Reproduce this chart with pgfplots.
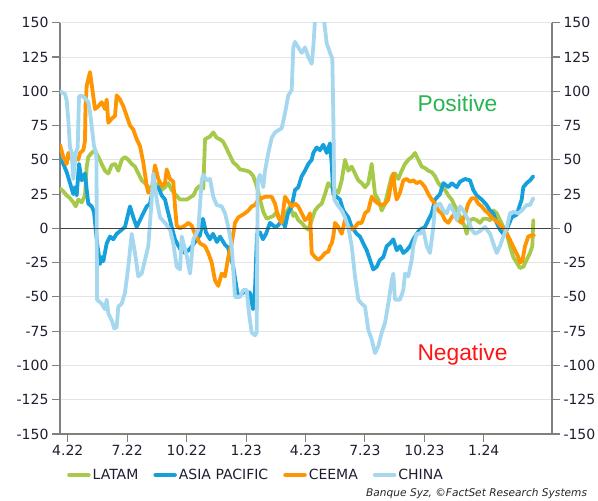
\documentclass[border=0pt]{standalone}
\usepackage{pgfplots}
\pgfplotsset{compat=1.18}
\usepackage{fontspec}
\setmainfont{DejaVu Sans}
\newfontfamily\annfont{Liberation Sans}
\definecolor{latam}{RGB}{166,201,74}
\definecolor{asia}{RGB}{22,160,219}
\definecolor{ceema}{RGB}{255,149,0}
\definecolor{china}{RGB}{165,216,238}
\definecolor{axisgray}{RGB}{128,128,128}
\definecolor{gridgray}{RGB}{226,228,230}
\definecolor{labelcol}{RGB}{30,30,50}
\definecolor{posgreen}{RGB}{40,180,80}
\definecolor{negred}{RGB}{255,20,20}
\begin{document}
\begin{tikzpicture}
\pgfplotsset{
  common/.style={
    scale only axis, width=492pt, height=411.3pt,
    xmin=60, xmax=552, ymin=-150, ymax=150,
    ytick={-150,-125,-100,-75,-50,-25,0,25,50,75,100,125,150},
    yticklabels={-150,-125,-100,-75,-50,-25,0,25,50,75,100,125,150},
    tick align=outside, major tick length=8pt,
    tick style={draw=axisgray, line width=1.1pt},
    axis line style={draw=axisgray, line width=1.1pt},
    ticklabel style={font=\fontsize{14}{16}\selectfont, text=labelcol},
  }
}
\begin{axis}[common,
  axis x line*=bottom, axis y line*=left,
  xtick={67.8,127.2,186.7,246.1,305.5,364.9,424.4,483.8},
  xticklabels={4.22,7.22,10.22,1.23,4.23,7.23,10.23,1.24},
  ymajorgrids, grid style={draw=gridgray, line width=0.9pt},
  legend columns=4,
  legend style={at={(axis description cs:0.3984,0)}, anchor=center, yshift=-41pt,
    draw=none, fill=none, font=\fontsize{14}{16}\selectfont, text=labelcol,
    /tikz/every even column/.append style={column sep=13pt}},
  legend image code/.code={\draw[#1, line width=4.5pt, line cap=round] (0pt,0pt) -- (19pt,0pt);},
  every axis plot/.append style={line width=3.8pt, line join=round, line cap=round, mark=none},
]
\coordinate (sw) at (rel axis cs:0,0);
\coordinate (ne) at (rel axis cs:1,1);
\addplot[latam] coordinates {(60,29)(63.3,27)(66.7,24)(70,22)(73.3,19)(75.7,16)(78.3,21)(81.7,19)(85,24)(86.7,45)(88.3,52)(91.7,55)(95,57)(98.3,52)(101.7,47)(105,42)(108.3,40)(111.7,46)(115,47)(118.3,42)(121.7,50)(125,52)(128.3,50)(131.7,47)(135,45)(138.3,40)(141.7,35)(145,33)(148.3,30)(151.7,30)(155,28)(158.3,33)(161.7,28)(165,30)(168.3,33)(171.7,28)(175,25)(180,21)(186.7,21)(193.3,24)(196.7,29)(200,31)(203.3,29)(205,65)(210,67)(213.3,70)(216.7,66)(220,65)(223.3,63)(226.7,58)(230,53)(233.3,48)(236.7,46)(240,43)(246.7,42)(250,41)(253.3,38)(256.7,31)(260,21)(263.3,12)(266.7,7)(273.3,9)(276.7,12)(280,7)(283.3,4)(286.7,12)(290,16)(293.3,9)(295,11)(298.3,6)(301.7,4)(305,1)(308.3,-1)(311.7,6)(315,13)(318.3,16)(321.7,18)(325,25)(328.3,33)(331.7,30)(335,28)(338.3,26)(341.7,35)(345,50)(348.3,42)(351.7,45)(355,40)(358.3,35)(361.7,33)(365,30)(368.3,33)(371.7,47)(375,25)(378.3,21)(381.7,13)(385,18)(388.3,28)(391.7,38)(395,40)(398.3,36)(401.7,42)(405,47)(408.3,50)(411.7,52)(415,55)(418.3,50)(421.7,45)(425,44)(428.3,42)(431.7,41)(435,38)(438.3,33)(441.7,30)(445,28)(448.3,24)(451.7,21)(455,16)(458.3,11)(461.7,6)(465,1)(466.7,-4)(470,6)(473.3,7)(476.7,6)(480,4)(483.3,7)(486.7,7)(490,6)(493.3,13)(496.7,11)(500,6)(503.3,1)(506.7,-4)(510,-13)(513.3,-21)(516.7,-25)(520,-29)(523.3,-28)(526.7,-23)(530,-18)(532.3,-13)(533.3,6)};
\addlegendentry{LATAM}
\addplot[asia] coordinates {(60,51)(63.3,47)(66.7,41)(70,33)(73.3,25)(75,30)(76.7,24)(79,47)(81.7,35)(85,40)(86.7,28)(88.3,18)(91.7,16)(94,12)(97,-10)(100,-26)(101.7,-21)(103.3,-24)(106.7,-11)(110,-6)(113.3,-8)(116.7,-4)(121.7,-1)(125,1)(128.3,11)(130,16)(133.3,8)(136.7,1)(140,6)(143.3,11)(146.7,16)(150,18)(153.3,30)(158.3,30)(161.7,24)(165,21)(168.3,11)(171.7,1)(175,-8)(180,-15)(185,-18)(190,-15)(195,-10)(200,-5)(203,7)(206,-3)(210,-8)(213,-4)(217,-10)(220,-6)(225,-12)(228,-14)(231,-22)(233,-27)(238,-50)(245,-46)(250,-47)(253,-59)(255,-45)(257,-4)(260,-3)(263,-8)(266,-4)(270,4)(275,1)(278,2)(282,6)(285,1)(288,11)(291.7,16)(295,28)(298.3,30)(301.7,38)(305,42)(308.3,47)(311.7,50)(313.3,55)(316.7,59)(320,57)(323.3,61)(326.7,55)(330,62)(331.7,47)(333.3,25)(336.7,23)(340,21)(343.3,13)(348.3,8)(351.7,1)(356.7,-4)(360,-6)(363.3,-11)(366.7,-16)(370,-23)(373.3,-30)(376.7,-28)(380,-23)(383.3,-21)(386.7,-13)(390,-11)(393.3,-8)(396.7,-16)(400,-13)(403.3,-18)(406.7,-16)(410,-13)(413.3,-8)(416.7,-4)(420,-1)(425,1)(428.3,6)(431.7,11)(435,21)(440,25)(443.3,33)(448.3,30)(451.7,33)(456.7,30)(460,34)(465,36)(470,35)(473.3,28)(476.7,24)(481.7,21)(486.7,17)(490,13)(493.3,11)(496.7,4)(500,-1)(503.3,-4)(506.7,-1)(510,5)(511.7,8)(516.7,10)(521.7,21)(523.3,30)(526.7,33)(530,35)(533.3,38)};
\addlegendentry{ASIA PACIFIC}
\addplot[ceema] coordinates {(60,61)(63.3,52)(66.7,47)(68.3,55)(71.7,50)(75,52)(78.3,50)(80,55)(83.3,57)(85,64)(85.5,89)(86.7,104)(90,114)(91.7,105)(95,87)(98.3,89)(101.7,92)(105,87)(106.7,94)(108.3,77)(111.7,80)(115,82)(116.7,97)(120,94)(123.3,89)(126.7,82)(130,75)(133.3,72)(136.7,65)(140,60)(143.3,48)(146.7,31)(148.3,26)(151.7,28)(155,46)(158.3,36)(161.7,31)(165,33)(166.7,43)(170,36)(173.3,34)(175,16)(176.7,2)(180,0)(185,2)(188.3,4)(191.7,2)(195,-4)(200,-11)(205,-13)(208.3,-18)(211.7,-25)(215,-38)(218.3,-42)(221.7,-33)(225,-35)(228.3,-21)(231.7,-11)(235,4)(238.3,8)(245,11)(248.3,13)(251.7,16)(255,17)(258.3,21)(265,23)(271.7,23)(275,18)(278.3,8)(281.7,4)(285,23)(291.7,16)(295,18)(298.3,16)(301.7,11)(305,6)(308.3,8)(310,11)(311.7,-18)(315,-21)(318.3,-23)(321.7,-21)(325,-18)(328.3,-17)(330,-13)(331.7,-11)(333.3,-6)(335,4)(338.3,1)(341.7,-4)(345,6)(348.3,1)(351.7,-1)(355,1)(358.3,4)(361.7,4)(365,11)(368.3,13)(371.7,23)(375,20)(378.3,18)(381.7,17)(385,18)(388.3,21)(391.7,35)(393.3,40)(395,28)(396.7,21)(400,26)(403.3,35)(406.7,36)(410,34)(413.3,35)(416.7,33)(420,34)(421.7,33)(425,30)(428.3,25)(431.7,21)(435,18)(438.3,13)(441.7,11)(445,6)(448.3,4)(451.7,8)(455,11)(458.3,6)(461.7,4)(465,10)(468.3,18)(471.7,22)(475,22)(478.3,18)(481.7,16)(485,13)(488.3,11)(491.7,8)(495,6)(498.3,4)(501.7,1)(505,-1)(508.3,-6)(511.7,-11)(515,-16)(518.3,-21)(520,-25)(522.3,-24)(525,-13)(528.3,-6)(531.7,-5)(534,-5)};
\addlegendentry{CEEMA}
\addplot[china] coordinates {(60,100)(65,98)(66.7,93)(68.3,79)(70,59)(71.7,55)(73.3,36)(75.7,55)(77.7,59)(79,96)(81,97)(85,95)(88.3,92)(90,85)(94,60)(96,55)(96.5,50)(97,-52)(101.7,-55)(105,-59)(106.7,-52)(108.3,-62)(111.7,-67)(114.3,-73)(116.7,-72)(118.3,-57)(121.7,-55)(125,-47)(128.3,-28)(131.7,-4)(135,-18)(138.3,-35)(141.7,-33)(145,-23)(148.3,-13)(151.7,21)(153.3,40)(156.7,21)(160,8)(165,4)(170,-1)(173.3,-11)(176.7,-28)(180,-30)(181.7,-6)(186.7,-20)(190,-33)(193.3,-8)(198.3,-1)(201.7,35)(203.3,39)(206.7,35)(210,36)(213.3,23)(216.7,17)(221.7,16)(225,11)(228.3,1)(231.7,-13)(233.3,-30)(235,-50)(240,-50)(243.3,-45)(246.7,-45)(249,-62)(251.7,-76)(255,-78)(256.7,-76)(257.7,35)(260,39)(263.3,30)(265,42)(268.3,55)(271.7,66)(275,70)(281.7,73)(285,84)(288.3,97)(291.7,101)(293.3,132)(295,136)(298.3,132)(301.7,128)(305,132)(308.3,125)(311.7,120)(313.3,132)(315,152)(318.3,162)(321.7,160)(324.3,150)(326.7,135)(330,128)(332.3,124)(333.3,84)(334.3,21)(336.7,18)(341.7,13)(345,8)(348.3,1)(351.7,-13)(355,-35)(358.3,-52)(361.7,-55)(365,-57)(368.3,-74)(371.7,-81)(375,-91)(378.3,-86)(381.7,-76)(385,-69)(388.3,-55)(391.7,-38)(393.3,-33)(395,-52)(400,-52)(403.3,-45)(405,-33)(408.3,-35)(411.7,-23)(413.3,-13)(416.7,-4)(420,-4)(423.3,-1)(426.7,-13)(430,-18)(433.3,1)(435,16)(440,18)(443.3,13)(446.7,11)(450,17)(453.3,13)(456.7,6)(460,16)(463.3,13)(468.3,6)(471.7,-1)(475,-4)(480,-2)(485,1)(490,-4)(493.3,-11)(496.7,-18)(500,-13)(503.3,-6)(506.7,0)(510,11)(513.3,12)(518.3,11)(521.7,13)(526.7,17)(530,17)(533.3,22)};
\addlegendentry{CHINA}
\draw[black!75, line width=1.3pt] (axis cs:60,0) -- (axis cs:552,0);
\node[anchor=base, font=\annfont\fontsize{22.8}{26}\selectfont, text=posgreen] at (axis cs:457.5,85.2) {Positive};
\node[anchor=base, font=\annfont\fontsize{22.8}{26}\selectfont, text=negred] at (axis cs:462.5,-96.6) {Negative};
\end{axis}
\begin{axis}[common, axis x line=none, axis y line*=right]
\end{axis}
\node[anchor=base west, inner sep=0pt, font=\itshape\fontsize{10.6}{13}\selectfont, text=black!85] at ([xshift=306pt,yshift=-63pt]sw) {Banque Syz, ©FactSet Research Systems};
\pgfresetboundingbox
\path[use as bounding box] ([xshift=-60pt,yshift=-67pt]sw) rectangle ([xshift=46pt,yshift=22.7pt]ne);
\end{tikzpicture}
\end{document}
